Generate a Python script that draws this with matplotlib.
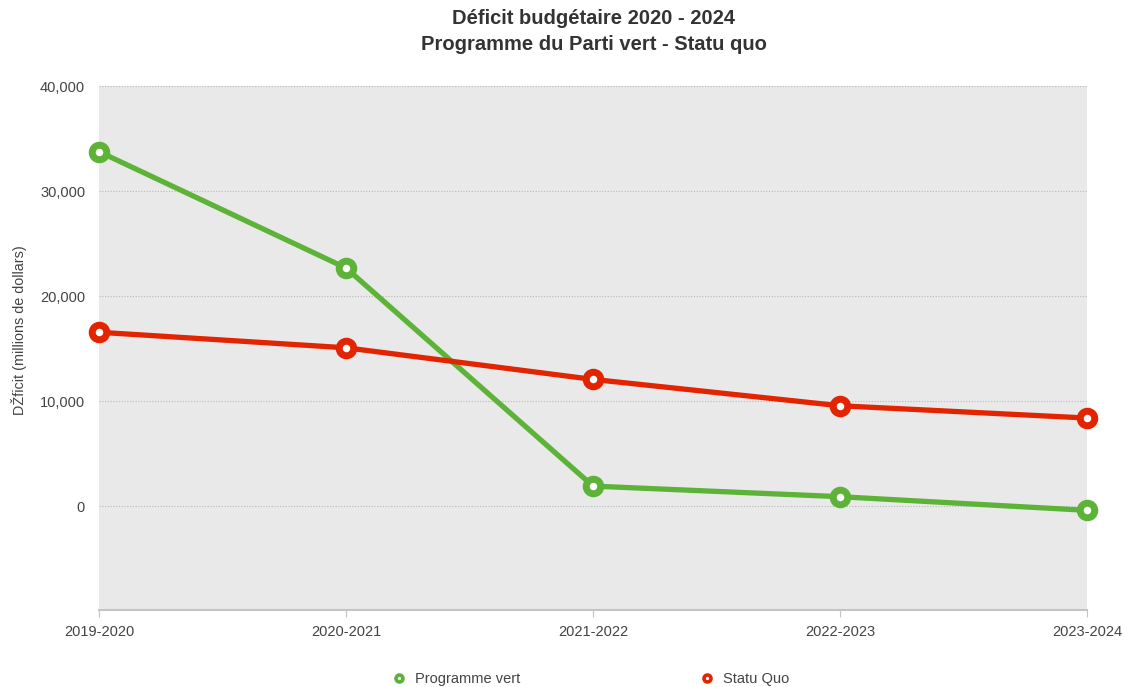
import matplotlib
matplotlib.use("Agg")
import matplotlib.pyplot as plt
from matplotlib.lines import Line2D

plt.rcParams['font.family'] = ['Liberation Sans', 'DejaVu Sans']

# Data
periods = ['2019-2020', '2020-2021', '2021-2022', '2022-2023', '2023-2024']
programme_vert = [33750, 22670, 1900, 890, -410]
statu_quo = [16550, 15070, 12060, 9550, 8380]

green = '#5db337'
red = '#e32400'
text_col = '#444444'

fig = plt.figure(figsize=(11.24, 6.87), dpi=100)
ax = fig.add_axes([99 / 1124, 1 - 610 / 687, 988 / 1124, 524 / 687])
ax.set_facecolor('#e9e9e9')

x = list(range(len(periods)))
for vals, col in [(programme_vert, green), (statu_quo, red)]:
    ax.plot(x, vals, color=col, lw=3.8, marker='o', ms=10.5, mew=5,
            mec=col, mfc='white', zorder=3, clip_on=False)

ax.set_xlim(0, len(periods) - 1)
ax.set_ylim(-9900, 40000)
ax.set_yticks([0, 10000, 20000, 30000, 40000])
ax.set_yticklabels(['{:,}'.format(v) for v in [0, 10000, 20000, 30000, 40000]])
ax.set_xticks(x)
ax.set_xticklabels(periods)

ax.grid(axis='y', color='#b8b8b8', linestyle=(0, (1, 1.5)), lw=0.8)
ax.set_axisbelow(True)
for s in ['top', 'left', 'right']:
    ax.spines[s].set_visible(False)
ax.spines['bottom'].set_color('#c4c4c4')
ax.spines['bottom'].set_linewidth(1.5)

ax.tick_params(axis='y', length=0, pad=10, labelsize=10.5, labelcolor=text_col)
ax.tick_params(axis='x', length=5, color='#c4c4c4', pad=6, labelsize=10.5,
               labelcolor=text_col)

ax.set_ylabel('DŽficit (millions de dollars)', fontsize=10.4, color=text_col)
ax.yaxis.set_label_coords(-0.073, 0.534)

fig.text(0.528, 1 - 19 / 687, 'Déficit budgétaire 2020 - 2024', ha='center',
         va='center', fontsize=14.5, fontweight='bold', color='#333333')
fig.text(0.528, 1 - 45 / 687, 'Programme du Parti vert - Statu quo', ha='center',
         va='center', fontsize=14.5, fontweight='bold', color='#333333')

handles = [
    Line2D([], [], ls='none', marker='o', ms=5, mew=2.6, mec=green, mfc='white'),
    Line2D([], [], ls='none', marker='o', ms=5, mew=2.6, mec=red, mfc='white'),
]
fig.legend(handles, ['Programme vert', 'Statu Quo'], loc='center',
           bbox_to_anchor=(590 / 1124, 1 - 679 / 687), ncol=2, frameon=False,
           fontsize=10.5, labelcolor=text_col, columnspacing=12.2,
           handletextpad=0.5, handlelength=1.2)

fig.savefig('out.png', dpi=100)
